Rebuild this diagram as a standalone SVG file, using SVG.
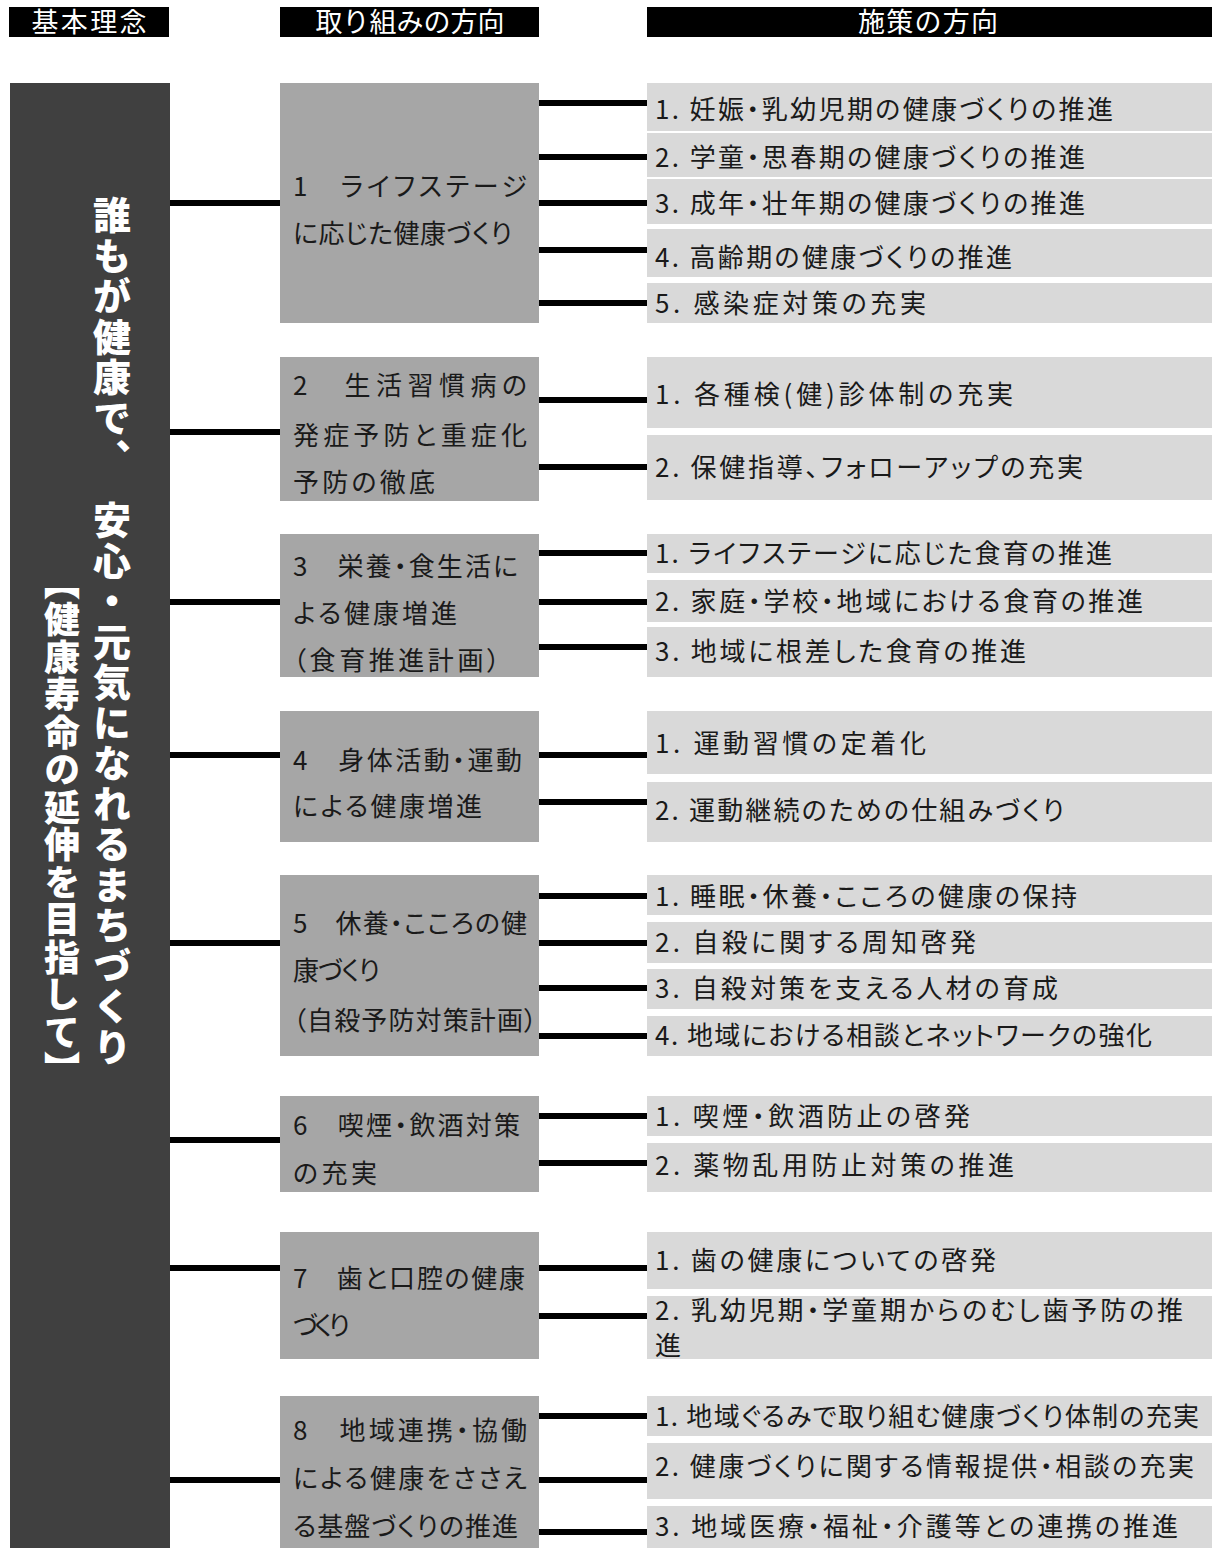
<svg xmlns="http://www.w3.org/2000/svg" width="1212" height="1548" viewBox="0 0 1212 1548">
<style>
.hdr{fill:#000}
.hdrt{fill:#fff;font-family:"Noto Sans CJK JP","Noto Sans CJK SC",sans-serif;font-size:27px;text-anchor:middle}
.dark{fill:#404040}
.mid{fill:#a6a6a6}
.lt{fill:#d9d9d9}
.t{fill:#1a1a1a;font-family:"Noto Sans CJK JP","Noto Sans CJK SC",sans-serif;font-size:26px;font-feature-settings:"palt"}
.vt{fill:#fff;font-family:"Noto Sans CJK JP","Noto Sans CJK SC",sans-serif;font-weight:900;writing-mode:vertical-rl}
.con line{stroke:#000;stroke-width:6}
</style>
<g id="headers">
<rect class="hdr" x="9" y="7" width="160" height="30"/>
<text class="hdrt" x="89" y="32" textLength="115">基本理念</text>
<rect class="hdr" x="280" y="7" width="259" height="30"/>
<text class="hdrt" x="410" y="32" textLength="189">取り組みの方向</text>
<rect class="hdr" x="647" y="7" width="565" height="30"/>
<text class="hdrt" x="928" y="32" textLength="140">施策の方向</text>
</g>
<g id="connectors" class="con">
<line x1="170" y1="203" x2="280" y2="203"/>
<line x1="170" y1="432" x2="280" y2="432"/>
<line x1="170" y1="602" x2="280" y2="602"/>
<line x1="170" y1="755" x2="280" y2="755"/>
<line x1="170" y1="943" x2="280" y2="943"/>
<line x1="170" y1="1140" x2="280" y2="1140"/>
<line x1="170" y1="1268" x2="280" y2="1268"/>
<line x1="170" y1="1480" x2="280" y2="1480"/>
<line x1="539" y1="103" x2="647" y2="103"/>
<line x1="539" y1="157" x2="647" y2="157"/>
<line x1="539" y1="203" x2="647" y2="203"/>
<line x1="539" y1="250" x2="647" y2="250"/>
<line x1="539" y1="303" x2="647" y2="303"/>
<line x1="539" y1="400" x2="647" y2="400"/>
<line x1="539" y1="467" x2="647" y2="467"/>
<line x1="539" y1="553" x2="647" y2="553"/>
<line x1="539" y1="602" x2="647" y2="602"/>
<line x1="539" y1="647" x2="647" y2="647"/>
<line x1="539" y1="755" x2="647" y2="755"/>
<line x1="539" y1="802" x2="647" y2="802"/>
<line x1="539" y1="896" x2="647" y2="896"/>
<line x1="539" y1="943" x2="647" y2="943"/>
<line x1="539" y1="988" x2="647" y2="988"/>
<line x1="539" y1="1036" x2="647" y2="1036"/>
<line x1="539" y1="1116" x2="647" y2="1116"/>
<line x1="539" y1="1163" x2="647" y2="1163"/>
<line x1="539" y1="1268" x2="647" y2="1268"/>
<line x1="539" y1="1316" x2="647" y2="1316"/>
<line x1="539" y1="1416" x2="647" y2="1416"/>
<line x1="539" y1="1480" x2="647" y2="1480"/>
<line x1="539" y1="1532" x2="647" y2="1532"/>
</g>
<g id="vision">
<rect class="dark" x="10" y="83" width="160" height="1465"/>
<text class="vt" x="112" y="196" font-size="38" letter-spacing="2.5">誰もが健康で、　安心・元気になれるまちづくり</text>
<text class="vt" x="62" y="564" font-size="36" letter-spacing="1.5">【健康寿命の延伸を目指して】</text>
</g>
<g id="dir1">
<rect class="mid" x="280" y="83" width="259" height="240"/>
<text class="t" x="293" y="196" textLength="234">1　ライフステージ</text>
<text class="t" x="293" y="243" textLength="219">に応じた健康づくり</text>
</g>
<g id="dir2">
<rect class="mid" x="280" y="357" width="259" height="144"/>
<text class="t" x="293" y="395" textLength="234">2　生活習慣病の</text>
<text class="t" x="293" y="445" textLength="234">発症予防と重症化</text>
<text class="t" x="293" y="492" textLength="142">予防の徹底</text>
</g>
<g id="dir3">
<rect class="mid" x="280" y="534" width="259" height="143"/>
<text class="t" x="293" y="576" textLength="225">3　栄養・食生活に</text>
<text class="t" x="293" y="623" textLength="164">よる健康増進</text>
<text class="t" x="293" y="670" textLength="207">（食育推進計画）</text>
</g>
<g id="dir4">
<rect class="mid" x="280" y="711" width="259" height="131"/>
<text class="t" x="293" y="770" textLength="229">4　身体活動・運動</text>
<text class="t" x="293" y="816" textLength="189">による健康増進</text>
</g>
<g id="dir5">
<rect class="mid" x="280" y="875" width="259" height="181"/>
<text class="t" x="293" y="933" textLength="234">5　休養・こころの健</text>
<text class="t" x="293" y="980" textLength="87">康づくり</text>
<text class="t" x="293" y="1030" textLength="244">（自殺予防対策計画）</text>
</g>
<g id="dir6">
<rect class="mid" x="280" y="1096" width="259" height="96"/>
<text class="t" x="293" y="1135" textLength="227">6　喫煙・飲酒対策</text>
<text class="t" x="293" y="1183" textLength="84">の充実</text>
</g>
<g id="dir7">
<rect class="mid" x="280" y="1232" width="259" height="127"/>
<text class="t" x="293" y="1288" textLength="232">7　歯と口腔の健康</text>
<text class="t" x="293" y="1335" textLength="57">づくり</text>
</g>
<g id="dir8">
<rect class="mid" x="280" y="1396" width="259" height="152"/>
<text class="t" x="293" y="1440" textLength="234">8　地域連携・協働</text>
<text class="t" x="293" y="1488" textLength="234">による健康をささえ</text>
<text class="t" x="293" y="1536" textLength="225">る基盤づくりの推進</text>
</g>
<g id="m1">
<rect class="lt" x="647" y="83" width="565" height="48"/><text class="t" x="655" y="119" textLength="458">1. 妊娠・乳幼児期の健康づくりの推進</text>
<rect class="lt" x="647" y="133" width="565" height="44"/><text class="t" x="655" y="167" textLength="430">2. 学童・思春期の健康づくりの推進</text>
<rect class="lt" x="647" y="179" width="565" height="45"/><text class="t" x="655" y="213" textLength="430">3. 成年・壮年期の健康づくりの推進</text>
<rect class="lt" x="647" y="229" width="565" height="48"/><text class="t" x="655" y="267" textLength="357">4. 高齢期の健康づくりの推進</text>
<rect class="lt" x="647" y="283" width="565" height="40"/><text class="t" x="655" y="313" textLength="271">5. 感染症対策の充実</text>
</g>
<g id="m2">
<rect class="lt" x="647" y="357" width="565" height="71"/><text class="t" x="655" y="404" textLength="358">1. 各種検(健)診体制の充実</text>
<rect class="lt" x="647" y="435" width="565" height="65"/><text class="t" x="655" y="477" textLength="428">2. 保健指導、フォローアップの充実</text>
</g>
<g id="m3">
<rect class="lt" x="647" y="534" width="565" height="39"/><text class="t" x="655" y="563" textLength="457">1. ライフステージに応じた食育の推進</text>
<rect class="lt" x="647" y="580" width="565" height="42"/><text class="t" x="655" y="611" textLength="488">2. 家庭・学校・地域における食育の推進</text>
<rect class="lt" x="647" y="627" width="565" height="50"/><text class="t" x="655" y="661" textLength="371">3. 地域に根差した食育の推進</text>
</g>
<g id="m4">
<rect class="lt" x="647" y="711" width="565" height="63"/><text class="t" x="655" y="753" textLength="271">1. 運動習慣の定着化</text>
<rect class="lt" x="647" y="782" width="565" height="60"/><text class="t" x="655" y="820" textLength="409">2. 運動継続のための仕組みづくり</text>
</g>
<g id="m5">
<rect class="lt" x="647" y="875" width="565" height="40"/><text class="t" x="655" y="906" textLength="422">1. 睡眠・休養・こころの健康の保持</text>
<rect class="lt" x="647" y="922" width="565" height="41"/><text class="t" x="655" y="952" textLength="321">2. 自殺に関する周知啓発</text>
<rect class="lt" x="647" y="969" width="565" height="40"/><text class="t" x="655" y="998" textLength="403">3. 自殺対策を支える人材の育成</text>
<rect class="lt" x="647" y="1016" width="565" height="40"/><text class="t" x="655" y="1045" textLength="497">4. 地域における相談とネットワークの強化</text>
</g>
<g id="m6">
<rect class="lt" x="647" y="1096" width="565" height="40"/><text class="t" x="655" y="1126" textLength="315">1. 喫煙・飲酒防止の啓発</text>
<rect class="lt" x="647" y="1143" width="565" height="49"/><text class="t" x="655" y="1175" textLength="359">2. 薬物乱用防止対策の推進</text>
</g>
<g id="m7">
<rect class="lt" x="647" y="1232" width="565" height="57"/><text class="t" x="655" y="1270" textLength="341">1. 歯の健康についての啓発</text>
<rect class="lt" x="647" y="1296" width="565" height="63"/><text class="t" x="655" y="1320" textLength="528">2. 乳幼児期・学童期からのむし歯予防の推</text><text class="t" x="655" y="1355">進</text>
</g>
<g id="m8">
<rect class="lt" x="647" y="1396" width="565" height="40"/><text class="t" x="655" y="1426" textLength="544">1. 地域ぐるみで取り組む健康づくり体制の充実</text>
<rect class="lt" x="647" y="1443" width="565" height="56"/><text class="t" x="655" y="1476" textLength="539">2. 健康づくりに関する情報提供・相談の充実</text>
<rect class="lt" x="647" y="1506" width="565" height="42"/><text class="t" x="655" y="1536" textLength="523">3. 地域医療・福祉・介護等との連携の推進</text>
</g>
</svg>
